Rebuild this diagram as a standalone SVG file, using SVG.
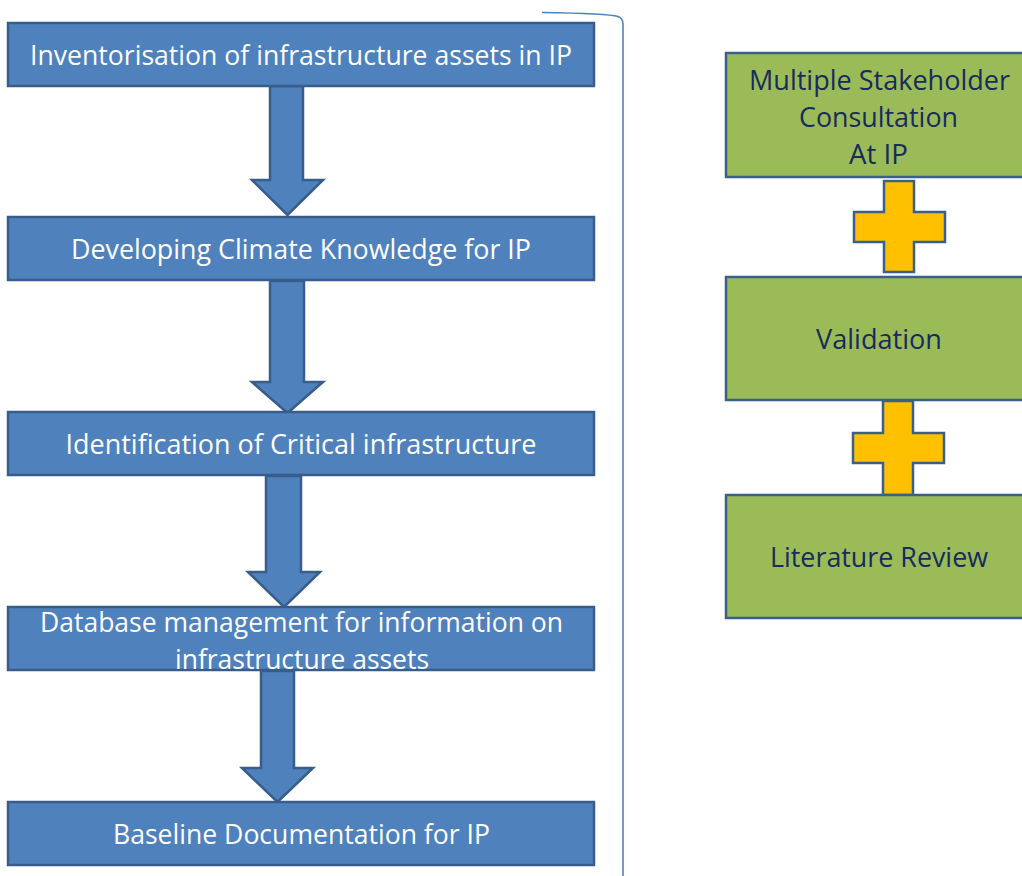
<svg xmlns="http://www.w3.org/2000/svg" width="1022" height="876" viewBox="0 0 1022 876">
<style>
.bbox{fill:#4F81BD;stroke:#385D8A;stroke-width:2.5}
.gbox{fill:#9BBB59;stroke:#3A5F8B;stroke-width:2.5}
.plus{fill:#FFC000;stroke:#3A5F8B;stroke-width:2.5;stroke-linejoin:miter}
.arr{fill:#4F81BD;stroke:#385D8A;stroke-width:2.5;stroke-linejoin:miter}
.wt{font-family:"Open Sans","Noto Sans",sans-serif;font-size:28px;fill:#FFFFFF;text-anchor:middle}
.nt{font-family:"Open Sans","Noto Sans",sans-serif;font-size:28px;fill:#172B5C;text-anchor:middle}
</style>
<rect width="1022" height="876" fill="#FFFFFF"/>
<path d="M542,12.5 Q608,13.5 618,16.5 Q623,18.5 623,24 L623,876" fill="none" stroke="#4F81BD" stroke-width="1.6"/>
<g id="connectors">
<polygon class="arr" points="270,86 303,86 303,180 323,180 287.5,215 252,180 270,180"/>
<polygon class="arr" points="270,281 304,281 304,382 323,382 287.5,413 252,382 270,382"/>
<polygon class="arr" points="266,476 301,476 301,572 320,572 284,607 248,572 266,572"/>
<polygon class="arr" points="261,671 294,671 294,768 313,768 277.5,802 242,768 261,768"/>
</g>
<g id="n1"><rect class="bbox" x="8" y="23" width="586" height="63"/><text class="wt" x="301" y="65" textLength="542" lengthAdjust="spacingAndGlyphs">Inventorisation of infrastructure assets in IP</text></g>
<g id="n2"><rect class="bbox" x="8" y="217" width="586" height="63"/><text class="wt" x="301" y="259" textLength="460" lengthAdjust="spacingAndGlyphs">Developing Climate Knowledge for IP</text></g>
<g id="n3"><rect class="bbox" x="8" y="412" width="586" height="63"/><text class="wt" x="301" y="454" textLength="471" lengthAdjust="spacingAndGlyphs">Identification of Critical infrastructure</text></g>
<g id="n4"><rect class="bbox" x="8" y="607" width="586" height="63"/><text class="wt" x="301.5" y="632" textLength="523" lengthAdjust="spacingAndGlyphs">Database management for information on</text><text class="wt" x="302" y="669" textLength="254" lengthAdjust="spacingAndGlyphs">infrastructure assets</text></g>
<g id="n5"><rect class="bbox" x="8" y="802" width="586" height="63"/><text class="wt" x="301.5" y="844" textLength="377" lengthAdjust="spacingAndGlyphs">Baseline Documentation for IP</text></g>
<g id="plus1"><polygon class="plus" points="884,181 914,181 914,212 945,212 945,242 914,242 914,272 884,272 884,242 854,242 854,212 884,212"/></g>
<g id="plus2"><polygon class="plus" points="883,401 913,401 913,433 944,433 944,463 913,463 913,495 883,495 883,463 853,463 853,433 883,433"/></g>
<g id="r1"><rect class="gbox" x="726" y="53" width="306" height="124"/><text class="nt" x="879.5" y="90" textLength="261" lengthAdjust="spacingAndGlyphs">Multiple Stakeholder</text><text class="nt" x="878.5" y="127" textLength="159" lengthAdjust="spacingAndGlyphs">Consultation</text><text class="nt" x="878.5" y="164" textLength="59" lengthAdjust="spacingAndGlyphs">At IP</text></g>
<g id="r2"><rect class="gbox" x="726" y="277" width="306" height="123"/><text class="nt" x="879" y="349" textLength="126" lengthAdjust="spacingAndGlyphs">Validation</text></g>
<g id="r3"><rect class="gbox" x="726" y="495" width="306" height="123"/><text class="nt" x="879" y="567" textLength="218" lengthAdjust="spacingAndGlyphs">Literature Review</text></g>
</svg>
